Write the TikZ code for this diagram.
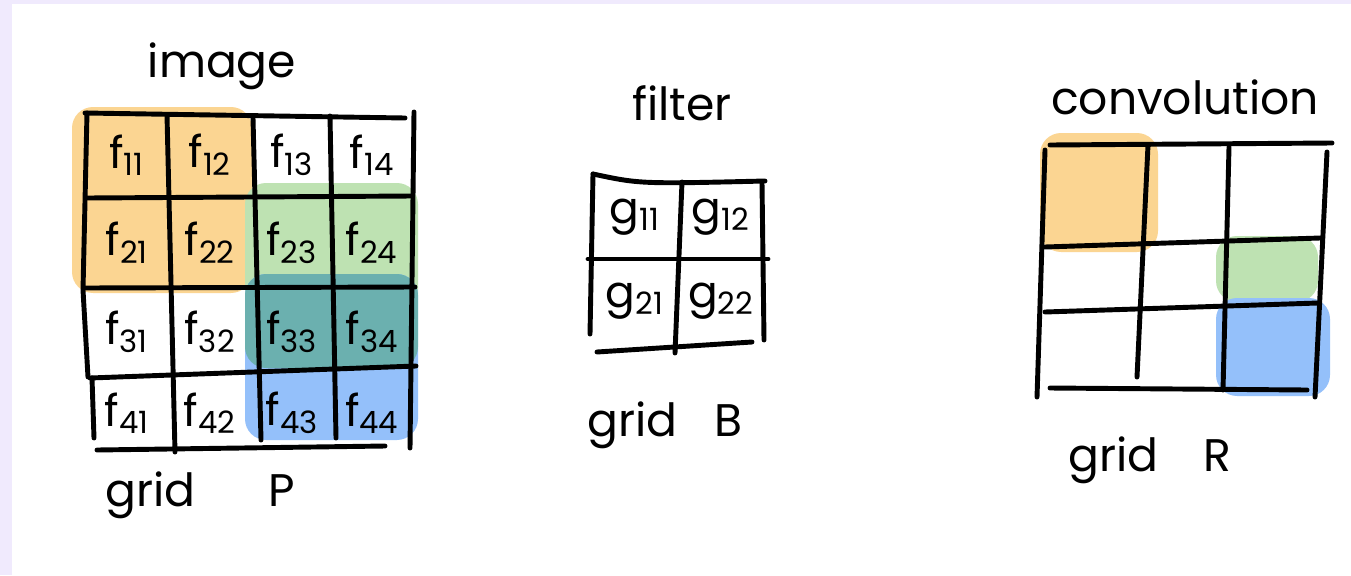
\documentclass[tikz,border=0pt]{standalone}
\usepackage{fontspec}
\setmainfont{Poppins}
\definecolor{frame}{RGB}{240,234,253}
\definecolor{hlorange}{RGB}{251,213,146}
\definecolor{hlgreen}{RGB}{190,226,178}
\definecolor{hlblue}{RGB}{148,192,250}
\definecolor{hlteal}{RGB}{107,176,175}

\begin{document}
\begin{tikzpicture}[x=0.02cm,y=-0.02cm,pen/.style={line width=2.8pt, line cap=round, line join=round},title/.style={font=\fontsize{26}{28}\selectfont, inner sep=0pt},cell/.style={font=\fontsize{25}{25}\selectfont, inner sep=0pt},blob/.style={rounded corners=12pt}]
\useasboundingbox (0,0) rectangle (1351,575);
\fill[frame] (0,0) rectangle (1351,575);
\fill[white] (12,4) rectangle (1351,575);
% image grid P
\fill[hlorange, blob] (72,107) rectangle (252,293);
\fill[hlgreen, blob] (245,183) rectangle (418,368);
\fill[hlblue, blob] (245,274) rectangle (418,440);
\begin{scope}
\clip[blob] (245,183) rectangle (418,368);
\fill[hlteal, blob] (245,274) rectangle (418,440);
\end{scope}
\draw[pen] (85,113) -- (405,118); \draw[pen] (87,198) -- (412,196); \draw[pen] (84,288) -- (415,287);
\draw[pen] (90,378) -- (416,366); \draw[pen] (97,450) -- (385,446);
\draw[pen] (87,113) -- (83,290) -- (88,377); \draw[pen] (92,378) -- (94,438);
\draw[pen] (167,115) -- (175,452); \draw[pen] (253,118) -- (261,440); \draw[pen] (330,116) -- (336,438); \draw[pen] (414,112) -- (410,448);
\foreach \r/\y in {1/155,2/243,3/332,4/413}
  \foreach \c/\x in {1/127,2/210,3/292,4/372}
    \node[cell] (f\r\c) at (\x,\y) {f\textsubscript{\r\c}};
\node[title] (image) at (222,66) {image};
\node[title] (gridP) at (200,495) {grid\hspace{1.6em}P};
% filter grid B
\draw[pen] (593,174) .. controls (640,184) .. (765,181); \draw[pen] (588,259) -- (768,259); \draw[pen] (597,352) -- (752,342);
\draw[pen] (593,174) -- (590,334); \draw[pen] (682,182) -- (675,353); \draw[pen] (762,183) -- (764,340);
\foreach \r/\y in {1/217,2/301}
  \foreach \c/\x in {1/635,2/721}
    \node[cell] (g\r\c) at (\x,\y) {g\textsubscript{\r\c}};
\node[title] (filter) at (682,103) {filter};
\node[title] (gridB) at (665,425) {grid\hspace{0.8em}B};
% convolution grid R
\fill[hlorange, blob] (1040,133) rectangle (1158,252);
\fill[hlgreen, blob] (1216,236) rectangle (1318,302);
\fill[hlblue, blob] (1216,298) rectangle (1330,396);
\draw[pen] (1050,145) -- (1332,143); \draw[pen] (1045,247) -- (1320,238); \draw[pen] (1045,312) -- (1318,303); \draw[pen] (1050,388) -- (1307,390);
\draw[pen] (1045,150) -- (1037,397); \draw[pen] (1148,145) -- (1137,377); \draw[pen] (1229,147) -- (1223,390); \draw[pen] (1327,152) -- (1315,397);
\node[title] (convolution) at (1185,97) {convolution};
\node[title] (gridR) at (1150,460) {grid\hspace{1.0em}R};
\end{tikzpicture}
\end{document}
